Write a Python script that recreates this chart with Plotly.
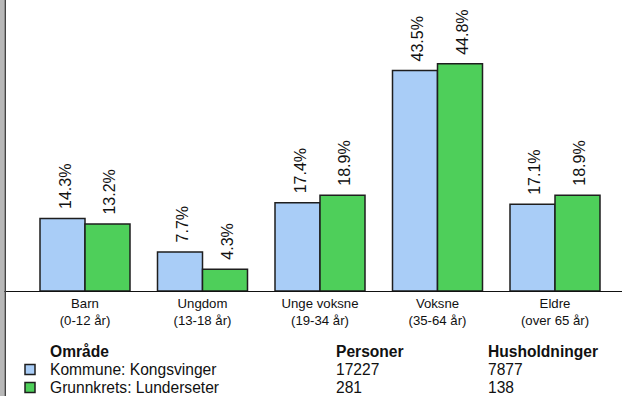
import plotly.graph_objects as go

categories = ["Barn<br>(0-12 år)", "Ungdom<br>(13-18 år)", "Unge voksne<br>(19-34 år)",
              "Voksne<br>(35-64 år)", "Eldre<br>(over 65 år)"]
kommune = [14.3, 7.7, 17.4, 43.5, 17.1]
grunnkrets = [13.2, 4.3, 18.9, 44.8, 18.9]
series_names = ["Kommune: Kongsvinger", "Grunnkrets: Lunderseter"]
personer = [17227, 281]
husholdninger = [7877, 138]
colors = ["#a9cdf7", "#4ecf5a"]

W, H = 622, 396
PLOT_BOTTOM = 291  # pixel y of baseline
FONT = "Liberation Sans, Arial, sans-serif"

fig = go.Figure()
for vals, name, col in [(kommune, series_names[0], colors[0]), (grunnkrets, series_names[1], colors[1])]:
    fig.add_trace(go.Bar(
        x=categories, y=vals, name=name,
        marker=dict(color=col, line=dict(color="#1e1e1e", width=1.5)),
        showlegend=False,
    ))

annotations = []
# value labels above bars
for vals, shift in [(kommune, -20), (grunnkrets, 25)]:
    for c, v in zip(categories, vals):
        annotations.append(dict(
            x=c, y=v, xref="x", yref="y", text=f"{v:.1f}%", textangle=-90,
            xanchor="center", yanchor="bottom", xshift=shift, yshift=7,
            showarrow=False, font=dict(family=FONT, size=16, color="#111")))


def py(p):
    return (PLOT_BOTTOM - p) / PLOT_BOTTOM


def px(p):
    return p / W


table = []
table.append(dict(text="<b>Område</b>", x=px(48), y=py(351)))
table.append(dict(text="<b>Personer</b>", x=px(334), y=py(351)))
table.append(dict(text="<b>Husholdninger</b>", x=px(486), y=py(351)))
shapes = []
row_y = [369.5, 387.5]
for i in range(2):
    table.append(dict(text=series_names[i], x=px(48), y=py(row_y[i])))
    table.append(dict(text=str(personer[i]), x=px(334), y=py(row_y[i])))
    table.append(dict(text=str(husholdninger[i]), x=px(486), y=py(row_y[i])))
    shapes.append(dict(type="rect", xref="paper", yref="paper",
                       x0=px(25), x1=px(35), y0=py(row_y[i] + 5), y1=py(row_y[i] - 5),
                       fillcolor=colors[i], line=dict(color="#1e1e1e", width=1.5)))
for a in table:
    a.update(xref="paper", yref="paper", xanchor="left", yanchor="middle", showarrow=False,
             font=dict(family=FONT, size=15.6, color="#111"))
annotations += table

# left gray border
shapes.append(dict(type="rect", xref="paper", yref="paper", x0=0, x1=px(4.5),
                   y0=py(H), y1=1, fillcolor="#b8b8b8", line=dict(width=0), layer="above"))
shapes.append(dict(type="rect", xref="paper", yref="paper", x0=px(4.5), x1=px(6),
                   y0=py(H), y1=1, fillcolor="#444444", line=dict(width=0), layer="above"))

fig.update_layout(
    width=W, height=H,
    margin=dict(l=0, r=0, t=0, b=H - PLOT_BOTTOM, pad=0),
    paper_bgcolor="white", plot_bgcolor="white",
    barmode="group", bargap=0.234, bargroupgap=0,
    xaxis=dict(range=[-85 / 117.5, (W - 85) / 117.5], showgrid=False, zeroline=False,
               showline=True, linecolor="#111", linewidth=1,
               ticks="", ticklen=0,
               tickfont=dict(family=FONT, size=13.2, color="#111")),
    yaxis=dict(range=[0, PLOT_BOTTOM / 5.07], visible=False, showgrid=False, zeroline=False),
    annotations=annotations, shapes=shapes,
    showlegend=False,
)

fig.write_html("out.html")
